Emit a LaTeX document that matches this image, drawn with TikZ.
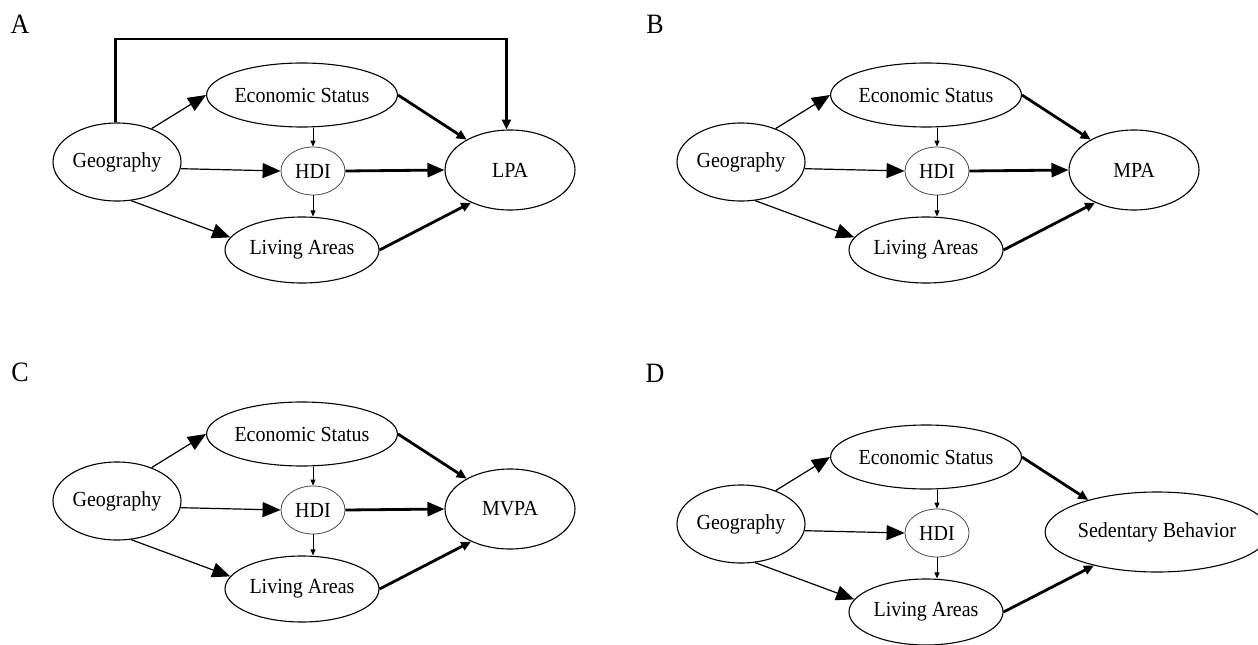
\documentclass[tikz,border=0pt]{standalone}
\usepackage{fontspec}
\setmainfont{Liberation Serif}[FakeStretch=0.93]
\usetikzlibrary{shapes.geometric,arrows.meta}
\begin{document}
\begin{tikzpicture}[x=1pt,y=-1pt,
  ell/.style={ellipse, draw, line width=1.1pt, inner sep=0pt, font=\fontsize{21.5}{25}\selectfont},
  hdistyle/.style={ellipse, draw=black!70, line width=0.8pt, inner sep=0pt, font=\fontsize{21.5}{25}\selectfont},
  geoarr/.style={line width=1.2pt, -{Triangle[length=18pt,width=15pt]}},
  varr/.style={line width=0.8pt, -{Triangle[length=6pt,width=5pt]}},
  bigarr/.style={line width=2.8pt, -{Triangle[length=17pt,width=14pt]}},
  medarr/.style={line width=2.8pt, -{Triangle[length=10pt,width=9pt]}},
  panellabel/.style={inner sep=0pt, font=\fontsize{28}{32}\selectfont}]
\useasboundingbox (0,0) rectangle (1258,645);

\newcommand\mypanel[8]{%
\begin{scope}[shift={(#2,#3)}]
  \node[ell, minimum width=128pt, minimum height=78pt] (#1geo) at (117,162) {Geography};
  \node[ell, minimum width=154pt, minimum height=64pt] (#1econ) at (302,95) {Economic Status};
  \node[hdistyle, minimum width=64pt, minimum height=48pt] (#1hdi) at (313,171) {HDI};
  \node[ell, minimum width=154pt, minimum height=66pt] (#1liv) at (302,250) {Living Areas};
  \node[ell, minimum width=#6pt, minimum height=80pt] (#1out) at (#5,170) {#4};
  \draw[geoarr] (#1geo.44) -- (#1econ.west);
  \draw[geoarr] (#1geo.-6) -- (#1hdi.west);
  \draw[geoarr] (#1geo.-70) -- (#1liv.170);
  \draw[varr] (#1hdi.north |- #1econ.south) -- (#1hdi.north);
  \draw[varr] (#1hdi.south) -- (#1hdi.south |- #1liv.north);
  \draw[medarr] (#1econ.east) -- (#1out.#7);
  \draw[medarr] (#1liv.east) -- (#1out.#8);
\end{scope}}

\mypanel{A}{0}{0}{LPA}{510}{130}{145}{-140}
\mypanel{B}{624}{0}{MPA}{510}{130}{145}{-140}
\mypanel{C}{0}{339}{MVPA}{510}{130}{145}{-140}
\mypanel{D}{624}{362}{Sedentary Behavior}{533}{198}{155}{-152}

\draw[bigarr] (Ahdi.east) -- (Aout.west);
\draw[bigarr] (Bhdi.east) -- (Bout.west);
\draw[bigarr] (Chdi.east) -- (Cout.west);

\coordinate (topA) at (300,39);
\draw[medarr] (Ageo.92) |- (topA) -| (Aout.95);

\node[panellabel] (labA) at (20,24) {A};
\node[panellabel] (labB) at (655,24) {B};
\node[panellabel] (labC) at (20,372) {C};
\node[panellabel] (labD) at (655,373) {D};
\end{tikzpicture}
\end{document}
